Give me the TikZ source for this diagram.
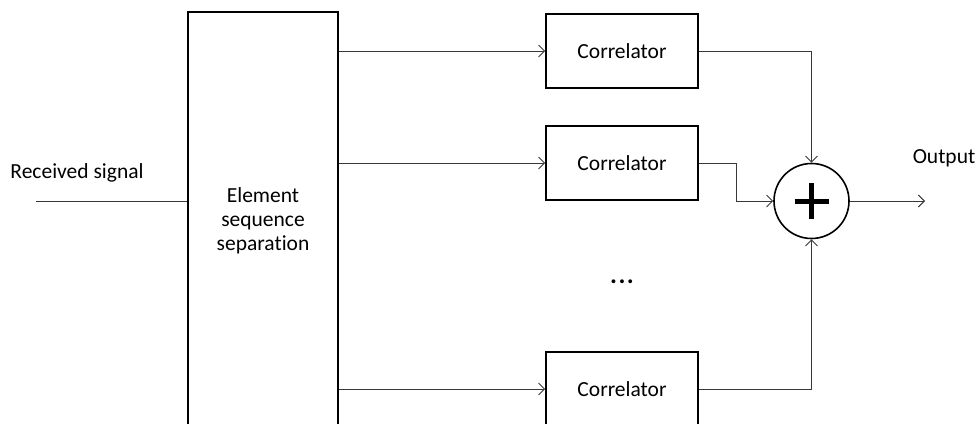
\documentclass[tikz,border=0pt]{standalone}
\usepackage{fontspec}
\setmainfont{Carlito}[Ligatures=NoCommon]
\usetikzlibrary{arrows.meta}
\begin{document}
\begin{tikzpicture}[x=1pt,y=-1pt,
  blk/.style={draw=black, line width=1.6pt, fill=white, inner sep=0pt, font=\fontsize{21.5}{24}\selectfont, align=center},
  corr/.style={blk, minimum width=152pt, minimum height=74pt},
  conn/.style={draw=black!78, line width=0.9pt},
  arr/.style={conn, -{Straight Barb[length=6pt,width=12pt,line width=0.9pt]}},
  lbl/.style={font=\fontsize{21.5}{24}\selectfont, inner sep=0pt}]
\useasboundingbox (0,0) rectangle (976,423);
\clip (0,0) rectangle (976,423);
\fill[white] (0,0) rectangle (976,423);

\node[blk, minimum width=150pt, minimum height=418pt] (sep) at (263,221) {Element\\sequence\\separation};
\node[corr] (c1) at (622,51) {Correlator};
\node[corr] (c2) at (622,163) {Correlator};
\node[corr] (c3) at (622,389) {Correlator};
\node[draw=black, line width=1.6pt, circle, minimum size=75pt, inner sep=0pt] (sum) at (811.5,201) {};
\draw[line width=5pt] ([xshift=-17pt]sum.center) -- ([xshift=17pt]sum.center)
                      ([yshift=-18pt]sum.center) -- ([yshift=18pt]sum.center);

\coordinate (in) at (36,201);
\coordinate (out) at (925,201);

\node[lbl, anchor=base] (rl) at (77,178) {Received signal};
\node[lbl, anchor=base] (ol) at (944,163) {Output};
\node[lbl, font=\fontsize{26}{30}\selectfont\bfseries] (dots) at (622,282) {.\hspace{1.5pt}.\hspace{1.5pt}.};

\draw[conn] (in) -- (sep.west |- in);
\draw[arr] (sep.east |- c1.west) -- (c1.west);
\draw[arr] (sep.east |- c2.west) -- (c2.west);
\draw[arr] (sep.east |- c3.west) -- (c3.west);
\draw[arr] (c1.east) -| (sum.north);
\draw[arr] (c2.east) -- ++(38,0) |- (sum.west);
\draw[arr] (c3.east) -| (sum.south);
\draw[arr] (sum.east) -- (out);
\end{tikzpicture}
\end{document}
